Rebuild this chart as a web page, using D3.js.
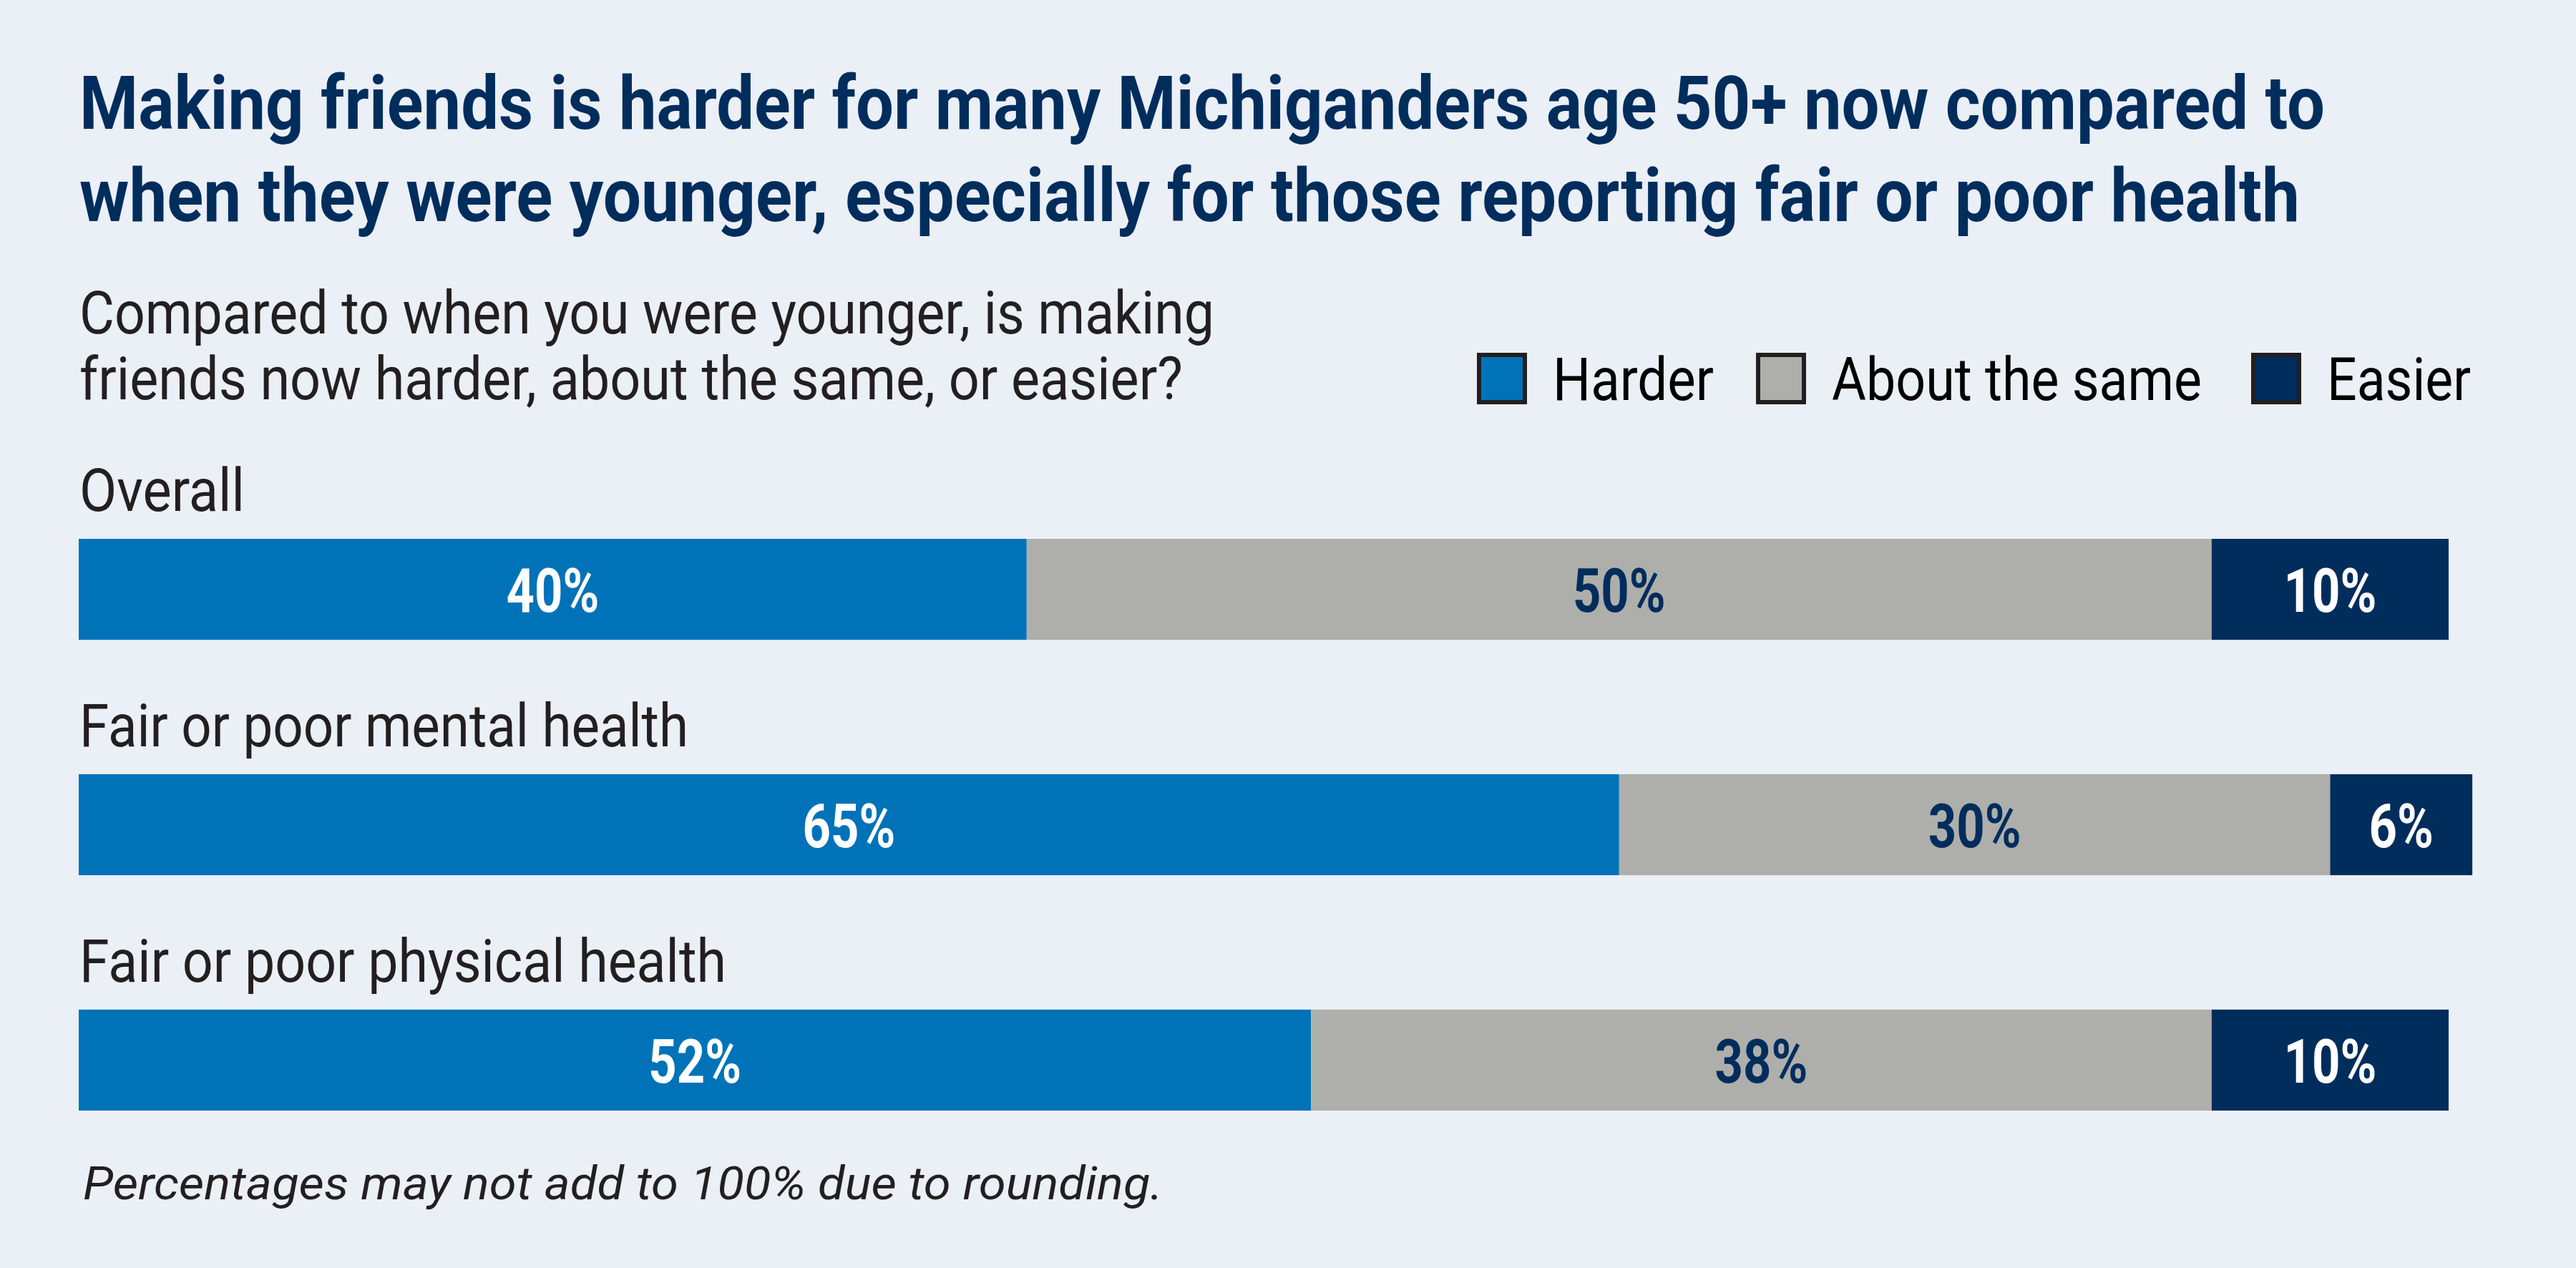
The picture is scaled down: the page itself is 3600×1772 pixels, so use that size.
<!DOCTYPE html>
<html>
<head>
<meta charset="utf-8">
<script src="https://cdn.jsdelivr.net/npm/d3@7"></script>
<style>
  html, body { margin: 0; padding: 0; background: #ebeff6; }
  svg { display: block; }
</style>
</head>
<body>
<script>
// ---------- DATA ----------
const categories = ["Overall", "Fair or poor mental health", "Fair or poor physical health"];
const seriesNames = ["Harder", "About the same", "Easier"];
const harder = [40, 65, 52];
const aboutSame = [50, 30, 38];
const easier = [10, 6, 10];
const titleLines = [
  "Making friends is harder for many Michiganders age 50+ now compared to",
  "when they were younger, especially for those reporting fair or poor health"
];
const subtitleLines = [
  "Compared to when you were younger, is making",
  "friends now harder, about the same, or easier?"
];
const footnote = "Percentages may not add to 100% due to rounding.";

// ---------- STYLE ----------
const W = 3600, H = 1772;
const colors = ["#0073b8", "#aeafab", "#002d5c"];
const labelColors = ["#ffffff", "#002d5c", "#ffffff"];
const navy = "#002d5c";
const ink = "#231f20";
const FONT = "Roboto, 'Liberation Sans', Arial, sans-serif";

const svg = d3.select("body").append("svg")
  .attr("width", W).attr("height", H)
  .attr("font-family", FONT);

svg.append("rect").attr("width", W).attr("height", H).attr("fill", "#ebeff6");

// helper: draw text squeezed to target width
function fitText(sel, width) {
  sel.attr("textLength", width).attr("lengthAdjust", "spacingAndGlyphs");
}

// Title
const titleWidths = [3138, 3103];
titleLines.forEach((t, i) => {
  svg.append("text")
    .attr("x", 111).attr("y", 180 + i * 129)
    .attr("font-size", 104).attr("font-weight", 700)
    .attr("fill", navy)
    .text(t)
    .call(fitText, titleWidths[i]);
});

// Subtitle
const subWidths = [1586, 1542];
subtitleLines.forEach((t, i) => {
  svg.append("text")
    .attr("x", 111).attr("y", 466 + i * 92)
    .attr("font-size", 84).attr("font-weight", 400)
    .attr("fill", ink)
    .text(t)
    .call(fitText, subWidths[i]);
});

// Legend
const legendBoxX = [2064, 2454, 3146];
const legendTextW = [225, 517, 201];
seriesNames.forEach((name, i) => {
  const g = svg.append("g");
  g.append("rect")
    .attr("x", legendBoxX[i] + 3).attr("y", 496)
    .attr("width", 64).attr("height", 66)
    .attr("fill", colors[i])
    .attr("stroke", ink).attr("stroke-width", 6);
  g.append("text")
    .attr("x", legendBoxX[i] + 106).attr("y", 559)
    .attr("font-size", 84).attr("fill", "#000")
    .text(name)
    .call(fitText, legendTextW[i]);
});

// Scales
const x = d3.scaleLinear().domain([0, 100]).range([110, 3422]);
const y = d3.scaleBand().domain(categories).range([753, 1552])
  .paddingInner(0.571).paddingOuter(0);

// Stack
const rows = categories.map((c, i) => ({ cat: c, Harder: harder[i], "About the same": aboutSame[i], Easier: easier[i] }));
const stack = d3.stack().keys(seriesNames)(rows);

// Category labels
const catWidths = [231, 851, 904];
svg.append("g").selectAll("text").data(categories).join("text")
  .attr("x", 111)
  .attr("y", d => y(d) - 39)
  .attr("font-size", 83).attr("fill", ink)
  .text(d => d)
  .each(function(d, i) { d3.select(this).call(fitText, catWidths[i]); });

// Bars
const layers = svg.append("g").selectAll("g").data(stack).join("g")
  .attr("fill", (d, i) => colors[i]);

layers.selectAll("rect").data(d => d.map(s => ({ s, cat: s.data.cat }))).join("rect")
  .attr("x", d => x(d.s[0]))
  .attr("y", d => y(d.cat))
  .attr("width", d => x(d.s[1]) - x(d.s[0]))
  .attr("height", y.bandwidth());

// Value labels
const condense = 0.8;
stack.forEach((layer, li) => {
  svg.append("g").selectAll("text").data(layer).join("text")
    .attr("x", d => (x(d[0]) + x(d[1])) / 2)
    .attr("y", d => y(d.data.cat) + 102)
    .attr("text-anchor", "middle")
    .attr("font-size", 86).attr("font-weight", 700)
    .attr("fill", labelColors[li])
    .text(d => (d[1] - d[0]) + "%")
    .each(function() {
      const w = this.getComputedTextLength();
      d3.select(this).call(fitText, w * condense);
    });
});

// Footnote
svg.append("text")
  .attr("x", 116).attr("y", 1676)
  .attr("font-size", 64).attr("font-style", "italic")
  .attr("fill", ink)
  .text(footnote)
  .call(fitText, 1509);
</script>
</body>
</html>
